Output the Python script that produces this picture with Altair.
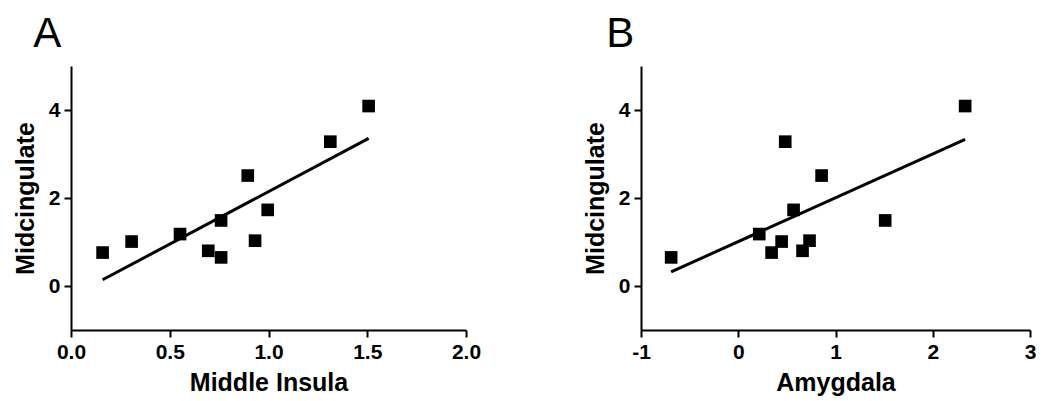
import altair as alt
import pandas as pd

# Midcingulate values (shared y) with paired predictors
midcingulate = [0.76, 1.01, 1.18, 0.80, 0.65, 1.49, 2.51, 1.03, 1.73, 3.28, 4.09]
middle_insula = [0.160, 0.307, 0.552, 0.695, 0.760, 0.760, 0.895, 0.932, 0.996, 1.313, 1.507]
amygdala = [0.343, 0.446, 0.216, 0.661, -0.690, 1.511, 0.857, 0.733, 0.569, 0.483, 2.333]

x_ticks_a = [0.0, 0.5, 1.0, 1.5, 2.0]
x_ticks_b = [-1, 0, 1, 2, 3]
y_ticks = [0, 2, 4]

df = pd.DataFrame({"Midcingulate": midcingulate,
                   "Middle Insula": middle_insula,
                   "Amygdala": amygdala})

FONT = "Liberation Sans"


def panel(xcol, letter, xdomain, xticks, width, dx, label_expr=None, fmt=None):
    axis_kwargs = dict(values=xticks, labelFlush=False, labelOverlap=False)
    if label_expr:
        axis_kwargs["labelExpr"] = label_expr
    if fmt:
        axis_kwargs["format"] = fmt
    x = alt.X(f"{xcol}:Q", title=xcol,
              scale=alt.Scale(domain=xdomain, nice=False, zero=False),
              axis=alt.Axis(**axis_kwargs))
    y = alt.Y("Midcingulate:Q", title="Midcingulate",
              scale=alt.Scale(domain=[-1, 5], nice=False),
              axis=alt.Axis(values=y_ticks))
    pts = alt.Chart(df).mark_square(size=160, color="black", opacity=1, filled=True).encode(x=x, y=y)
    line = alt.Chart(df).transform_regression(xcol, "Midcingulate").mark_line(
        color="black", strokeWidth=3).encode(x=x, y=y)
    return alt.layer(line, pts).properties(
        width=width, height=264,
        title=alt.TitleParams(letter, anchor="start", frame="bounds", dx=dx,
                              fontSize=42, font=FONT, fontWeight="normal",
                              color="black", offset=10))


a = panel("Middle Insula", "A", [0, 2], x_ticks_a, 395, 20, fmt=".1f")
b = panel("Amygdala", "B", [-1, 3], x_ticks_b, 389, 23, label_expr="'' + datum.value")

chart = alt.hconcat(a, b, spacing=102).properties(
    padding={"left": 5, "top": 5, "right": 5, "bottom": 5},
    background="white",
).configure_view(stroke=None).configure_axis(
    grid=False, domainColor="black", domainWidth=2, tickColor="black",
    tickWidth=2, tickSize=7, labelFont=FONT, labelFontWeight="bold",
    labelFontSize=21, labelColor="black", labelPadding=4,
    titleFont=FONT, titleFontWeight="bold", titleFontSize=25,
    titleColor="black",
).configure_axisY(titlePadding=10).configure_axisX(titlePadding=8)

chart.save("out.html", embed_options={"renderer": "svg", "actions": False})
